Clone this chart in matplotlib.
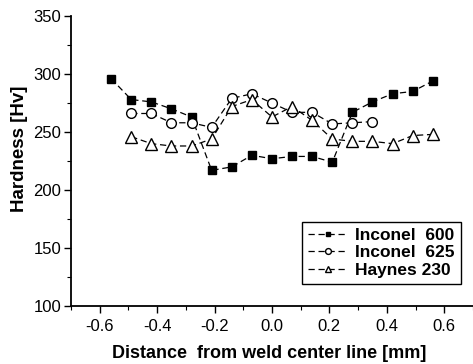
import matplotlib
matplotlib.use("Agg")
import matplotlib.pyplot as plt
from matplotlib.ticker import MultipleLocator

plt.rcParams['font.family'] = ['Liberation Sans', 'DejaVu Sans']

x600 = [-0.56, -0.49, -0.42, -0.35, -0.28, -0.21, -0.14, -0.07, 0.0,
        0.07, 0.14, 0.21, 0.28, 0.35, 0.42, 0.49, 0.56]
y600 = [296, 278, 276, 270, 263, 217, 220, 230, 227,
        229, 229, 224, 267, 276, 283, 285, 294]

x625 = [-0.49, -0.42, -0.35, -0.28, -0.21, -0.14, -0.07, 0.0,
        0.07, 0.14, 0.21, 0.28, 0.35]
y625 = [266, 266, 258, 258, 254, 279, 283, 275,
        267, 267, 257, 258, 259]

x230 = [-0.49, -0.42, -0.35, -0.28, -0.21, -0.14, -0.07, 0.0,
        0.07, 0.14, 0.21, 0.28, 0.35, 0.42, 0.49, 0.56]
y230 = [246, 240, 238, 238, 244, 272, 278, 263,
        272, 260, 244, 242, 242, 240, 247, 248]

labels = ['Inconel  600', 'Inconel  625', 'Haynes 230']
xlabel = 'Distance  from weld center line [mm]'
ylabel = 'Hardness [Hv]'
xticks = [-0.6, -0.4, -0.2, 0.0, 0.2, 0.4, 0.6]
xticklabels = ['-0.6', '-0.4', '-0.2', '0.0', '0.2', '0.4', '0.6']

fig = plt.figure(figsize=(4.73, 3.64), dpi=100)
ax = fig.add_axes([0.150, 0.159, 0.850, 0.797])

ls = (0, (5, 3))
ax.plot(x600, y600, linestyle=ls, color='black', linewidth=0.9,
        marker='s', markersize=6, markerfacecolor='black', markeredgecolor='black',
        label=labels[0])
ax.plot(x625, y625, linestyle=ls, color='black', linewidth=0.9,
        marker='o', markersize=7, markerfacecolor='white', markeredgecolor='black',
        markeredgewidth=1.0, label=labels[1])
ax.plot(x230, y230, linestyle=ls, color='black', linewidth=0.9,
        marker='^', markersize=8, markerfacecolor='white', markeredgecolor='black',
        markeredgewidth=1.0, label=labels[2])

ax.set_xlim(-0.7, 0.7)
ax.set_ylim(100, 350)
ax.set_xticks(xticks)
ax.set_xticklabels(xticklabels)
ax.xaxis.set_minor_locator(MultipleLocator(0.1))
ax.yaxis.set_major_locator(MultipleLocator(50))
ax.yaxis.set_minor_locator(MultipleLocator(25))

ax.spines['top'].set_visible(False)
ax.spines['right'].set_visible(False)
ax.spines['left'].set_linewidth(1.3)
ax.spines['bottom'].set_linewidth(1.3)
ax.tick_params(which='major', direction='out', length=5, width=1.0, labelsize=12)
ax.tick_params(axis='x', which='major', pad=4)
ax.tick_params(axis='y', which='major', pad=2)
ax.tick_params(which='minor', direction='out', length=3, width=0.8)

ax.set_xlabel(xlabel, fontsize=13, fontweight='bold', va='top')
ax.xaxis.set_label_coords(0.494, -0.135)
ax.set_ylabel(ylabel, fontsize=13.5, fontweight='bold')
ax.yaxis.set_label_coords(-0.107, 0.543)

leg = ax.legend(loc='upper left', bbox_to_anchor=(302 / 473, 1 - 222 / 364),
                bbox_transform=fig.transFigure, borderaxespad=0,
                frameon=True, fancybox=False, edgecolor='black', framealpha=1,
                prop={'weight': 'bold', 'size': 12.5}, markerscale=0.6,
                handlelength=2.3, handletextpad=0.4, labelspacing=0.12,
                borderpad=0.35)
leg.get_frame().set_linewidth(1.0)

fig.savefig('out.png', dpi=100)
